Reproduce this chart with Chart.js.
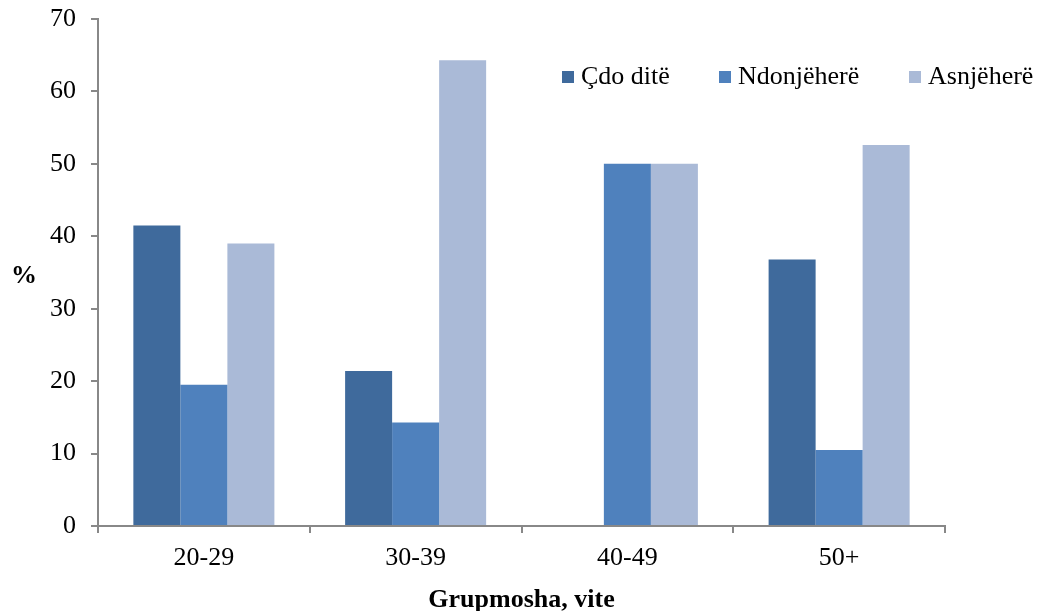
<!DOCTYPE html>
<html>
<head>
<meta charset="utf-8">
<script src="https://cdn.jsdelivr.net/npm/chart.js@4"></script>
<style>
  html, body { margin: 0; padding: 0; background: #fff; }
  #wrap { width: 1038px; height: 611px; position: relative; }
</style>
</head>
<body>
<div id="wrap"><canvas id="chart"></canvas></div>
<script>
const categories = ["20-29", "30-39", "40-49", "50+"];
const seriesNames = ["Çdo ditë", "Ndonjëherë", "Asnjëherë"];
const cdoDite = [41.5, 21.4, 0, 36.8];
const ndonjehere = [19.5, 14.3, 50, 10.5];
const asnjehere = [39, 64.3, 50, 52.6];
const colors = ["#3F6A9C", "#4F81BD", "#AABAD7"];

const FONT = "'Liberation Serif', 'Times New Roman', serif";
const SIZE = 26;

// legend inside the plot (top right) and the horizontal "%" axis label
const extras = {
  id: "extras",
  afterDraw(chart) {
    const ctx = chart.ctx;
    const area = chart.chartArea;
    const y = area.top + 58;
    const xs = [area.left + 464, area.left + 621, area.left + 811];
    ctx.save();
    ctx.font = SIZE + "px " + FONT;
    ctx.textBaseline = "middle";
    chart.data.datasets.forEach((ds, i) => {
      ctx.fillStyle = ds.backgroundColor;
      ctx.fillRect(xs[i], y - 6, 12, 12);
      ctx.fillStyle = "#000";
      ctx.fillText(ds.label, xs[i] + 19, y);
    });
    ctx.font = "bold " + SIZE + "px " + FONT;
    ctx.textAlign = "center";
    ctx.fillText("%", 24, (area.top + area.bottom) / 2 + 4);
    ctx.restore();
  }
};

new Chart(document.getElementById("chart"), {
  type: "bar",
  data: {
    labels: categories,
    datasets: [
      { label: seriesNames[0], data: cdoDite, backgroundColor: colors[0] },
      { label: seriesNames[1], data: ndonjehere, backgroundColor: colors[1] },
      { label: seriesNames[2], data: asnjehere, backgroundColor: colors[2] }
    ]
  },
  options: {
    responsive: true,
    maintainAspectRatio: false,
    animation: false,
    layout: { padding: { top: 19, right: 93, bottom: 0, left: 0 } },
    datasets: { bar: { categoryPercentage: 0.666, barPercentage: 1 } },
    plugins: {
      legend: { display: false },
      tooltip: { enabled: false }
    },
    scales: {
      x: {
        grid: { drawOnChartArea: false, drawTicks: true, tickLength: 7, color: "#888", lineWidth: 2 },
        border: { color: "#888", width: 2 },
        ticks: { color: "#000", font: { family: FONT, size: SIZE }, padding: 10 },
        title: { display: true, text: "Grupmosha, vite", color: "#000", font: { family: FONT, size: SIZE, weight: "bold" }, padding: { top: 4, bottom: -5 } },
        afterFit(scale) { scale.height = 85; }
      },
      y: {
        min: 0,
        max: 70,
        grid: { drawOnChartArea: false, drawTicks: true, tickLength: 7, color: "#888", lineWidth: 2 },
        border: { color: "#888", width: 2 },
        ticks: { stepSize: 10, color: "#000", font: { family: FONT, size: SIZE }, padding: 15 },
        afterFit(scale) { scale.width = 98; scale.paddingTop = 0; scale.paddingBottom = 0; }
      }
    }
  },
  plugins: [extras]
});
</script>
</body>
</html>
